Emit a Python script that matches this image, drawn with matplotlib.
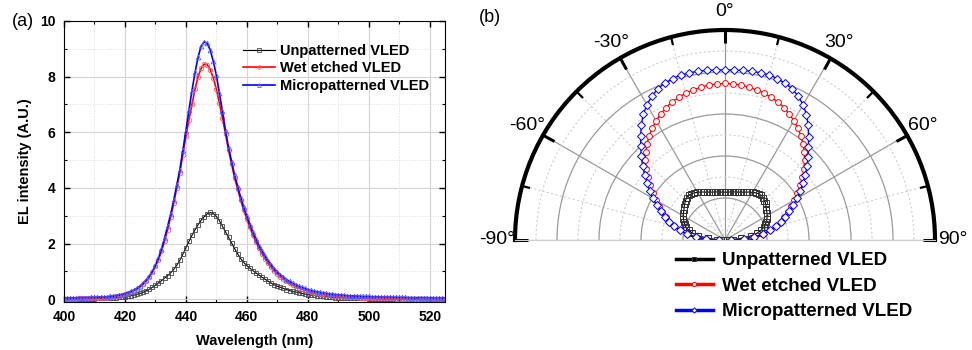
import numpy as np
import matplotlib
matplotlib.use("Agg")
import matplotlib.pyplot as plt
from matplotlib.ticker import MultipleLocator

plt.rcParams['font.family'] = ['Liberation Sans', 'DejaVu Sans']

# ---- (a) EL spectra, 1 nm steps ----
wavelength = np.arange(400, 526)

el_unpatterned = [
    0.00, 0.00, 0.01, 0.01, 0.01, 0.01, 0.01, 0.02, 0.02, 0.02,
    0.02, 0.03, 0.03, 0.03, 0.04, 0.04, 0.05, 0.06, 0.07, 0.08,
    0.09, 0.11, 0.13, 0.15, 0.18, 0.21, 0.25, 0.30, 0.36, 0.43,
    0.51, 0.59, 0.67, 0.76, 0.85, 0.95, 1.07, 1.22, 1.40, 1.62,
    1.85, 2.08, 2.30, 2.50, 2.68, 2.84, 2.97, 3.07, 3.12, 3.08,
    2.98, 2.82, 2.62, 2.42, 2.22, 2.02, 1.82, 1.63, 1.46, 1.32,
    1.21, 1.12, 1.03, 0.95, 0.87, 0.79, 0.72, 0.65, 0.58, 0.52,
    0.47, 0.43, 0.39, 0.35, 0.31, 0.28, 0.26, 0.24, 0.21, 0.19,
    0.17, 0.15, 0.14, 0.12, 0.11, 0.10, 0.09, 0.08, 0.07, 0.06,
    0.06, 0.05, 0.05, 0.04, 0.04, 0.04, 0.03, 0.03, 0.03, 0.03,
    0.02, 0.02, 0.02, 0.02, 0.02, 0.01, 0.01, 0.01, 0.01, 0.01,
    0.01, 0.01, 0.01, 0.01, 0.01, 0.00, 0.00, 0.00, 0.00, 0.00,
    0.00, 0.00, 0.00, 0.00, 0.00, 0.00,
]
el_wet_etched = [
    0.02, 0.02, 0.02, 0.02, 0.02, 0.03, 0.03, 0.03, 0.03, 0.03,
    0.04, 0.04, 0.05, 0.05, 0.06, 0.07, 0.08, 0.10, 0.12, 0.15,
    0.18, 0.22, 0.26, 0.31, 0.37, 0.45, 0.55, 0.66, 0.80, 0.98,
    1.18, 1.42, 1.72, 2.10, 2.50, 2.95, 3.45, 4.00, 4.55, 5.20,
    5.85, 6.45, 7.00, 7.55, 8.00, 8.30, 8.45, 8.43, 8.25, 7.95,
    7.55, 7.05, 6.50, 5.95, 5.35, 4.85, 4.35, 3.95, 3.55, 3.20,
    2.88, 2.58, 2.30, 2.05, 1.83, 1.63, 1.45, 1.29, 1.15, 1.02,
    0.91, 0.81, 0.72, 0.64, 0.57, 0.51, 0.46, 0.41, 0.37, 0.33,
    0.30, 0.27, 0.24, 0.22, 0.20, 0.18, 0.16, 0.14, 0.13, 0.12,
    0.11, 0.10, 0.09, 0.08, 0.08, 0.07, 0.07, 0.06, 0.06, 0.05,
    0.05, 0.05, 0.04, 0.04, 0.04, 0.03, 0.03, 0.03, 0.03, 0.02,
    0.02, 0.02, 0.02, 0.01, 0.01, 0.01, 0.00, 0.00, 0.00, -0.01,
    -0.01, -0.01, -0.02, -0.02, -0.02, -0.02,
]
el_micro = [
    0.05, 0.05, 0.05, 0.05, 0.05, 0.06, 0.06, 0.06, 0.06, 0.07,
    0.07, 0.07, 0.08, 0.08, 0.09, 0.10, 0.11, 0.13, 0.15, 0.17,
    0.20, 0.24, 0.28, 0.33, 0.39, 0.47, 0.57, 0.69, 0.83, 1.00,
    1.22, 1.48, 1.80, 2.20, 2.62, 3.05, 3.55, 4.10, 4.65, 5.35,
    6.05, 6.80, 7.50, 8.15, 8.70, 9.10, 9.25, 9.20, 8.95, 8.55,
    8.05, 7.40, 6.75, 6.05, 5.45, 4.95, 4.45, 4.05, 3.65, 3.30,
    2.98, 2.68, 2.40, 2.15, 1.92, 1.72, 1.54, 1.38, 1.23, 1.10,
    0.98, 0.88, 0.79, 0.71, 0.64, 0.58, 0.52, 0.47, 0.43, 0.39,
    0.35, 0.32, 0.29, 0.27, 0.25, 0.23, 0.21, 0.19, 0.18, 0.17,
    0.16, 0.15, 0.14, 0.13, 0.12, 0.12, 0.11, 0.11, 0.10, 0.10,
    0.10, 0.09, 0.09, 0.09, 0.08, 0.08, 0.08, 0.08, 0.07, 0.07,
    0.07, 0.07, 0.07, 0.06, 0.06, 0.06, 0.06, 0.06, 0.06, 0.06,
    0.05, 0.05, 0.05, 0.05, 0.05, 0.05,
]

# ---- (b) far-field pattern, 3 deg steps from -90 to 90 ----
angle_deg = np.arange(-90, 91, 3)

ff_unpatterned = [
    0.05, 0.20, 0.40, 0.64, 0.80, 0.89, 0.97, 1.03, 1.07, 1.11,
    1.15, 1.18, 1.21, 1.25, 1.29, 1.33, 1.36, 1.37, 1.36, 1.34,
    1.31, 1.28, 1.25, 1.22, 1.20, 1.18, 1.17, 1.16, 1.15, 1.14,
    1.14,
    1.14, 1.15, 1.16, 1.17, 1.18, 1.20, 1.22, 1.25, 1.28, 1.31,
    1.34, 1.36, 1.37, 1.36, 1.33, 1.30, 1.26, 1.22, 1.19, 1.16,
    1.12, 1.08, 1.03, 0.97, 0.89, 0.79, 0.62, 0.38, 0.18, 0.05,
]
ff_wet_etched = [
    0.15, 0.45, 0.70, 0.92, 1.10, 1.25, 1.39, 1.51, 1.63, 1.76,
    1.90, 2.05, 2.21, 2.37, 2.53, 2.68, 2.82, 2.95, 3.07, 3.18,
    3.28, 3.37, 3.45, 3.52, 3.57, 3.62, 3.65, 3.68, 3.71, 3.72,
    3.73,
    3.72, 3.71, 3.68, 3.65, 3.62, 3.57, 3.52, 3.45, 3.37, 3.28,
    3.18, 3.07, 2.95, 2.82, 2.68, 2.53, 2.37, 2.21, 2.05, 1.90,
    1.76, 1.63, 1.51, 1.39, 1.25, 1.10, 0.92, 0.70, 0.45, 0.15,
]
ff_micro = [
    0.15, 0.45, 0.70, 0.92, 1.10, 1.26, 1.40, 1.53, 1.67, 1.82,
    1.98, 2.13, 2.29, 2.46, 2.64, 2.82, 3.00, 3.19, 3.39, 3.57,
    3.72, 3.84, 3.94, 4.00, 4.04, 4.07, 4.07, 4.07, 4.06, 4.05,
    4.05,
    4.05, 4.06, 4.07, 4.07, 4.07, 4.04, 4.00, 3.94, 3.84, 3.72,
    3.56, 3.37, 3.16, 2.97, 2.80, 2.63, 2.46, 2.29, 2.13, 1.98,
    1.82, 1.67, 1.53, 1.40, 1.26, 1.10, 0.92, 0.70, 0.45, 0.15,
]

labels = ["Unpatterned VLED", "Wet etched VLED", "Micropatterned VLED"]

fig = plt.figure(figsize=(9.72, 3.5), dpi=100)

# ---------------- panel (a) ----------------
ax = fig.add_axes([0.0658, 0.137, 0.392, 0.803])
ax.plot(wavelength, el_unpatterned, color="black", lw=0.8, marker="s", ms=3.4,
        mfc="none", mec="#444444", mew=0.6, label=labels[0])
ax.plot(wavelength, el_wet_etched, color="red", lw=1.2, marker="o", ms=3.2,
        mfc="none", mec="#ff6060", mew=0.6, label=labels[1])
ax.plot(wavelength, el_micro, color="blue", lw=1.2, marker="^", ms=3.4,
        mfc="none", mec="#6060ff", mew=0.6, label=labels[2])

ax.set_xlim(400, 525)
ax.set_ylim(-0.1, 10)
ax.xaxis.set_major_locator(MultipleLocator(20))
ax.xaxis.set_minor_locator(MultipleLocator(10))
ax.yaxis.set_major_locator(MultipleLocator(2))
ax.yaxis.set_minor_locator(MultipleLocator(1))
ax.tick_params(which="both", direction="in", top=True, right=True)
ax.tick_params(which="major", length=4, width=1, labelsize=10, pad=6)
ax.tick_params(which="minor", length=2, width=0.8)
for lab in ax.get_xticklabels() + ax.get_yticklabels():
    lab.set_fontweight("bold")
ax.grid(which="major", color="#d4d4d4", lw=0.8, ls="-")
ax.grid(which="minor", color="#dddddd", lw=0.7, ls=":")
ax.set_axisbelow(True)
ax.set_xlabel("Wavelength (nm)", fontsize=10.5, fontweight="bold", labelpad=7)
ax.set_ylabel("EL intensity (A.U.)", fontsize=10.5, fontweight="bold", labelpad=6)
ax.legend(loc="upper left", bbox_to_anchor=(0.455, 0.94), frameon=False,
          prop={"weight": "bold", "size": 10.5}, handlelength=2.2,
          handletextpad=0.3, labelspacing=0.25, borderaxespad=0, markerscale=0.8)
fig.text(0.012, 0.94, "(a)", fontsize=13, va="center", ha="left")

# ---------------- panel (b) ----------------
# square box so the half disc spans the full width; it sits centred vertically
pax = fig.add_axes([515 / 972, 5 / 350, 420 / 972, 420 / 350], projection="polar")
pax.set_theta_zero_location("N")
pax.set_theta_direction(-1)
pax.set_thetamin(-90)
pax.set_thetamax(90)
pax.set_ylim(0, 5)

th = np.radians(angle_deg)
pax.plot(th, ff_unpatterned, color="black", lw=0.8, marker="s", ms=4.2,
         mfc="none", mec="#333333", mew=0.7, zorder=3)
pax.plot(th, ff_wet_etched, color="red", lw=1.0, marker="o", ms=4.2,
         mfc="white", mec="red", mew=0.7, zorder=3)
pax.plot(th, ff_micro, color="blue", lw=1.0, marker="D", ms=3.8,
         mfc="white", mec="blue", mew=0.7, zorder=3)

major_t = np.arange(-90, 91, 30)
minor_t = np.arange(-75, 90, 30)
pax.set_thetagrids(major_t, [f"{a}°" for a in major_t], fontsize=14)
pax.set_xticks(np.radians(minor_t), minor=True)
pax.set_yticks([1, 2, 3, 4, 5])
pax.set_yticks([0.5, 1.5, 2.5, 3.5, 4.5], minor=True)
pax.set_yticklabels([])
pax.tick_params(axis="y", which="both", length=0)
# tick2 sits on the outer arc of a polar axes
pax.tick_params(axis="x", which="both", direction="in", bottom=False, top=True,
                colors="black")
pax.tick_params(axis="x", which="major", length=9, width=2.2, pad=6)
pax.tick_params(axis="x", which="minor", length=6, width=1.6)
pax.grid(which="major", color="#9a9a9a", lw=0.9, ls="-")
pax.grid(which="minor", color="#d0d0d0", lw=0.8, ls=(0, (2, 2)))
pax.spines["polar"].set_linewidth(3)
pax.spines["start"].set_color("#cfcfcf")
pax.spines["end"].set_color("#cfcfcf")
pax.spines["inner"].set_visible(False)

handles = pax.get_lines()
leg = fig.legend(handles, labels, loc="upper left",
                 bbox_to_anchor=(0.695, 0.28), frameon=False,
                 prop={"weight": "bold", "size": 13.5}, handlelength=2.0,
                 handletextpad=0.5, labelspacing=0.45, borderaxespad=0,
                 borderpad=0, markerscale=0.7)
for line in leg.get_lines():
    line.set_linewidth(2.5)
fig.text(0.493, 0.95, "(b)", fontsize=13, va="center", ha="left")

fig.savefig("out.png", dpi=100)
